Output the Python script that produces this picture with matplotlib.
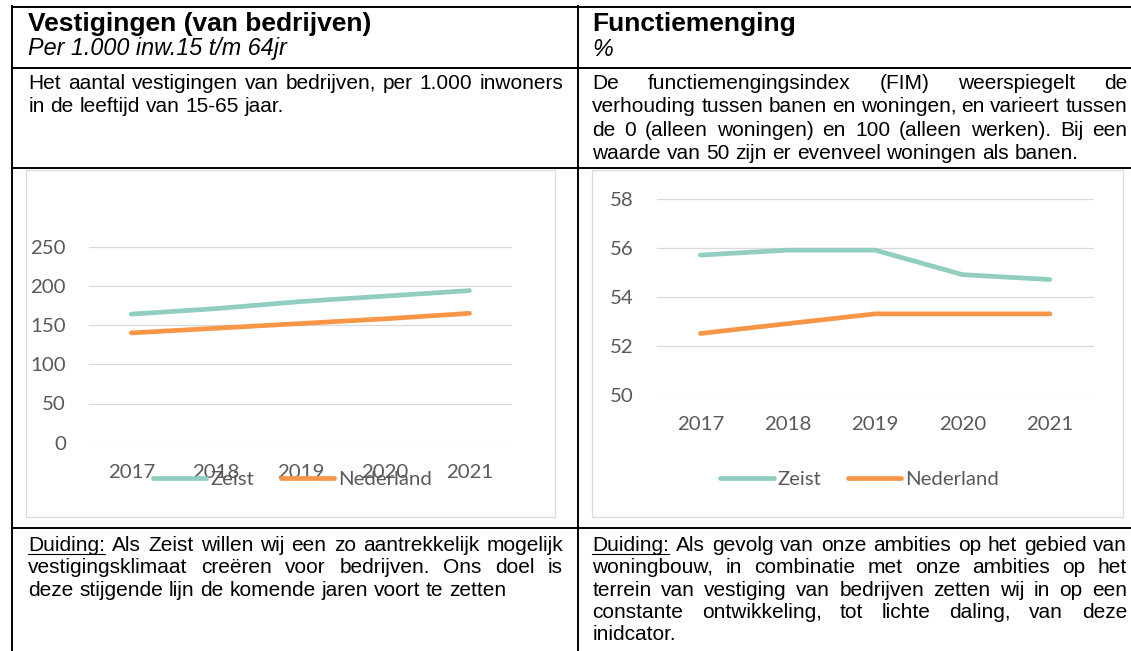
import matplotlib

matplotlib.use("Agg")
import matplotlib.pyplot as plt
from matplotlib.lines import Line2D
from matplotlib.patches import Rectangle

# ---- data -------------------------------------------------------------
years = ["2017", "2018", "2019", "2020", "2021"]
vest_zeist = [164, 171, 180, 187, 194]
vest_nl = [140, 146, 152, 158, 165]
fim_zeist = [55.7, 55.9, 55.9, 54.9, 54.7]
fim_nl = [52.5, 52.9, 53.3, 53.3, 53.3]
series_names = ["Zeist", "Nederland"]

# ---- texts ------------------------------------------------------------
left_title = "Vestigingen (van bedrijven)"
left_sub = "Per 1.000 inw.15 t/m 64jr"
right_title = "Functiemenging"
right_sub = "%"
left_desc = [
    "Het aantal vestigingen van bedrijven, per 1.000 inwoners",
    "in de leeftijd van 15-65 jaar.",
]
right_desc = [
    "De functiemengingsindex (FIM) weerspiegelt de",
    "verhouding tussen banen en woningen, en varieert tussen",
    "de 0 (alleen woningen) en 100 (alleen werken). Bij een",
    "waarde van 50 zijn er evenveel woningen als banen.",
]
left_note = [
    "Duiding: Als Zeist willen wij een zo aantrekkelijk mogelijk",
    "vestigingsklimaat creëren voor bedrijven. Ons doel is",
    "deze stijgende lijn de komende jaren voort te zetten",
]
right_note = [
    "Duiding: Als gevolg van onze ambities op het gebied van",
    "woningbouw, in combinatie met onze ambities op het",
    "terrein van vestiging van bedrijven zetten wij in op een",
    "constante ontwikkeling, tot lichte daling, van deze",
    "inidcator.",
]

W, H = 1131, 651
BODY = ["Liberation Sans", "DejaVu Sans"]
CHART = ["Lato", "DejaVu Sans"]
GREY = "#595959"
GRID = "#D9D9D9"
C_ZEIST = "#91CEBF"
C_NL = "#F79646"
BODY_SIZE = 15.0
CHART_SIZE = 14.7

fig = plt.figure(figsize=(W / 100, H / 100), dpi=100)
fig.patch.set_facecolor("white")
renderer = fig.canvas.get_renderer()


def fx(x):
    return x / W


def fy(y):
    return 1 - y / H


def hline(y, x0, x1, lw=1.4, color="black"):
    fig.add_artist(Line2D([fx(x0), fx(x1)], [fy(y), fy(y)], color=color, lw=lw,
                          transform=fig.transFigure))


def vline(x, y0, y1, lw=1.4, color="black"):
    fig.add_artist(Line2D([fx(x), fx(x)], [fy(y0), fy(y1)], color=color, lw=lw,
                          transform=fig.transFigure))


def paragraph(lines, x0, x1, y0, step, size=BODY_SIZE, underline_first=False):
    # justified text: every line but the last is stretched to the full width
    probe = fig.text(0, 0, "a a", fontsize=size, family=BODY)
    probe2 = fig.text(0, 0, "aa", fontsize=size, family=BODY)
    space = probe.get_window_extent(renderer).width - probe2.get_window_extent(renderer).width
    probe.remove()
    probe2.remove()
    for i, line in enumerate(lines):
        yb = y0 + i * step
        words = line.split(" ")
        arts = [fig.text(0, fy(yb), w, fontsize=size, family=BODY, va="baseline",
                         ha="left", color="black") for w in words]
        widths = [t.get_window_extent(renderer).width for t in arts]
        last = i == len(lines) - 1
        if not last and len(words) > 1:
            gap = max((x1 - x0 - sum(widths)) / (len(words) - 1), space * 0.6)
        else:
            gap = space
        x = x0
        for j, (t, w) in enumerate(zip(arts, widths)):
            t.set_x(fx(x))
            if underline_first and i == 0 and j == 0:
                hline(yb + 2.5, x, x + w, lw=0.8)
            x += w + gap


# ---- table grid -------------------------------------------------------
for y in [6.7, 68.3, 168.3, 528.3]:
    hline(y, 11.6, W + 5)
vline(12.3, 6, H + 5)
vline(577.7, 6, H + 5)

# ---- header and text cells -------------------------------------------
for x0, title, sub in [(28.3, left_title, left_sub), (592.3, right_title, right_sub)]:
    fig.text(fx(x0), fy(30.7), title, fontsize=19, fontweight="bold", family=BODY,
             va="baseline", ha="left")
    fig.text(fx(x0), fy(55.5), sub, fontsize=16.8, fontstyle="italic", family=BODY,
             va="baseline", ha="left")

paragraph(left_desc, 28.3, 563, 89, 23.3)
paragraph(right_desc, 592.3, 1127, 89, 23.3)
paragraph(left_note, 28.3, 563, 551, 22.3, underline_first=True)
paragraph(right_note, 592.3, 1127, 551, 22.3, underline_first=True)


# ---- charts -----------------------------------------------------------
def chart(box, plot, zeist, nl, ylim, yticks):
    bx0, by0, bx1, by1 = box
    fig.add_artist(Rectangle((fx(bx0), fy(by1)), (bx1 - bx0) / W, (by1 - by0) / H,
                             transform=fig.transFigure, facecolor="white",
                             edgecolor=GRID, lw=0.9, zorder=0))
    px0, py0, px1, py1 = plot
    ax = fig.add_axes([fx(px0), fy(py1), (px1 - px0) / W, (py1 - py0) / H])
    ax.patch.set_alpha(0)
    idx = range(len(years))
    ax.plot(idx, zeist, color=C_ZEIST, lw=3.4, solid_capstyle="round", label=series_names[0])
    ax.plot(idx, nl, color=C_NL, lw=3.4, solid_capstyle="round", label=series_names[1])
    ax.set_xlim(-0.5, len(years) - 0.5)
    ax.set_xticks(list(idx))
    ax.set_xticklabels(years)
    ax.set_ylim(*ylim)
    ax.set_yticks(yticks)
    ax.grid(axis="y", color=GRID, lw=0.9)
    ax.set_axisbelow(True)
    for s in ax.spines.values():
        s.set_visible(False)
    ax.tick_params(axis="both", length=0, labelsize=CHART_SIZE, labelcolor=GREY)
    ax.tick_params(axis="y", pad=16.5)
    ax.tick_params(axis="x", pad=15.5)
    for lab in ax.get_xticklabels() + ax.get_yticklabels():
        lab.set_family(CHART)
    leg = ax.legend(loc="center", bbox_to_anchor=(fx((bx0 + bx1) / 2 + 2), fy(479)),
                    bbox_transform=fig.transFigure, ncol=2, frameon=False,
                    handlelength=2.6, handletextpad=0.2, columnspacing=1.3,
                    prop={"family": CHART, "size": CHART_SIZE}, labelcolor=GREY)
    for h in leg.get_lines():
        h.set_linewidth(3.4)
    return ax


chart((25.7, 170, 555, 517), (89, 246.7, 511.7, 442.7), vest_zeist, vest_nl,
      (0, 250), [0, 50, 100, 150, 200, 250])
chart((592.3, 170, 1123.3, 517), (656.7, 198.7, 1093.7, 394.7), fim_zeist, fim_nl,
      (50, 58), [50, 52, 54, 56, 58])

fig.savefig("out.png", dpi=100)
